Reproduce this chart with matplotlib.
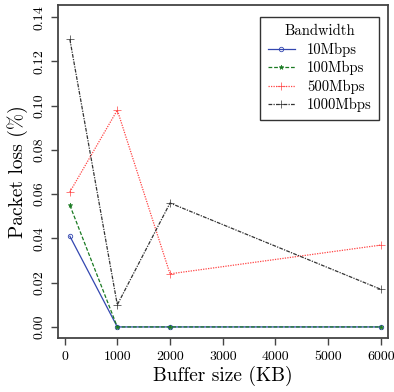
import matplotlib
matplotlib.use("Agg")
import matplotlib.pyplot as plt

buffer_kb = [100, 1000, 2000, 6000]
loss_10 = [0.041, 0.0, 0.0, 0.0]
loss_100 = [0.055, 0.0, 0.0, 0.0]
loss_500 = [0.061, 0.098, 0.024, 0.037]
loss_1000 = [0.130, 0.010, 0.056, 0.017]
series_labels = ["10Mbps", "100Mbps", "500Mbps", "1000Mbps"]
x_ticks = [0, 1000, 2000, 3000, 4000, 5000, 6000]
y_ticks = [0.00, 0.02, 0.04, 0.06, 0.08, 0.10, 0.12, 0.14]

plt.rcParams["font.family"] = ["cmr10", "DejaVu Serif"]
plt.rcParams["mathtext.fontset"] = "cm"
plt.rcParams["axes.formatter.use_mathtext"] = True

fig = plt.figure(figsize=(3.94, 3.92), dpi=100)
ax = fig.add_axes([58 / 394, 1 - 338 / 392, 330 / 394, 333 / 392])

ax.plot(buffer_kb, loss_10, color="#3347b0", lw=0.9, ls="-", marker="o",
        ms=3.2, mfc="none", mew=0.6, label=series_labels[0])
ax.plot(buffer_kb, loss_100, color="#1a7a22", lw=0.9, ls=(0, (3, 1.5)),
        marker="*", ms=3.5, mew=0.4, label=series_labels[1])
ax.plot(buffer_kb, loss_500, color="#ff4444", lw=0.9, ls=(0, (1, 1)),
        marker="+", ms=6, mew=0.5, label=series_labels[2])
ax.plot(buffer_kb, loss_1000, color="#333333", lw=0.9, ls=(0, (3, 1, 1, 1)),
        marker="+", ms=6, mew=0.5, label=series_labels[3])

ax.set_xlim(-125, 6135)
ax.set_ylim(-0.005, 0.1455)
ax.set_xticks(x_ticks)
ax.set_xticklabels([str(t) for t in x_ticks])
ax.set_yticks(y_ticks)
ax.set_yticklabels([f"{t:.2f}" for t in y_ticks], rotation=90, va="center")

for s in ax.spines.values():
    s.set_color("#444444")
    s.set_linewidth(1.3)
ax.tick_params(direction="out", length=5, width=1.0, color="#444444",
               labelsize=10, pad=4)

ax.set_xlabel("Buffer size (KB)", fontsize=14, labelpad=2)
ax.set_ylabel("Packet loss (%)", fontsize=14, labelpad=4)

leg = ax.legend(title="Bandwidth", loc="upper right", fontsize=10.5,
                title_fontsize=10.5, fancybox=False, edgecolor="#333333",
                framealpha=1, handlelength=1.9, labelspacing=0.3,
                borderpad=0.5, borderaxespad=0,
                bbox_to_anchor=((379 - 58) / 330, (338 - 17) / 333))
leg.get_frame().set_linewidth(1.0)

fig.savefig("out.png", dpi=100)
